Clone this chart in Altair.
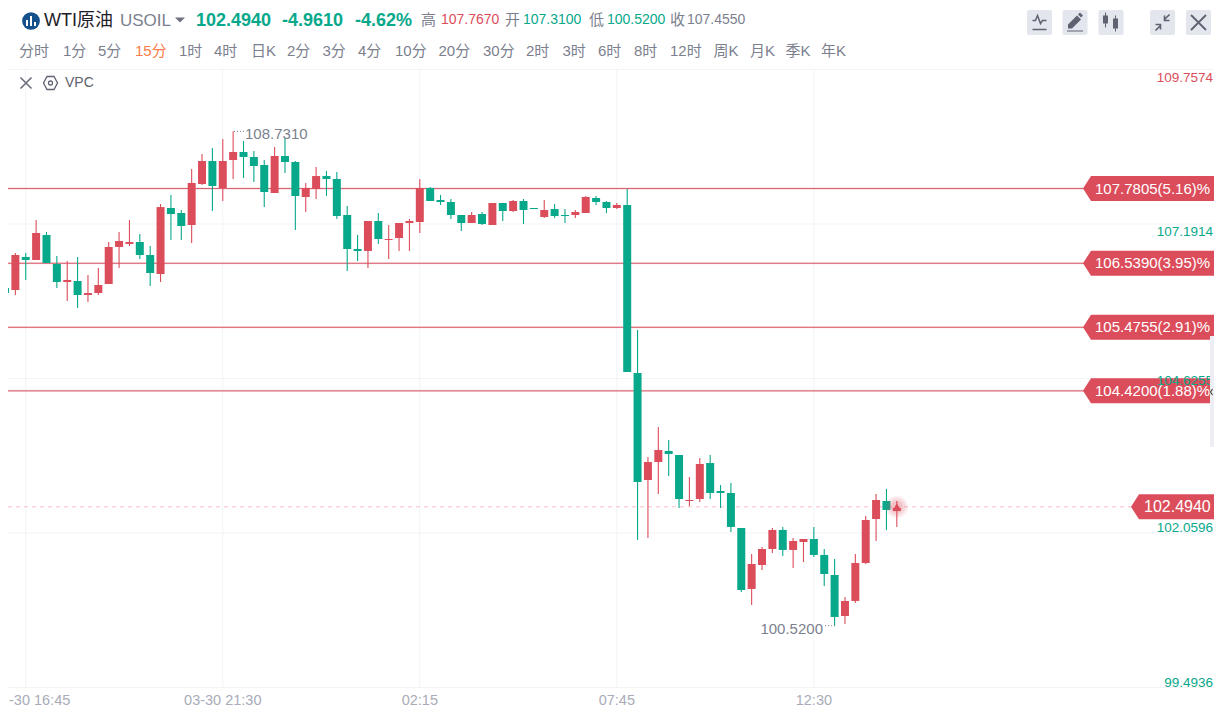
import altair as alt
import pandas as pd

OPEN = [106.128,106.095,106.644,106.594,107.009,106.527,106.228,106.245,106.012,106.045,
106.195,106.810,106.860,106.893,106.677,106.361,107.457,107.374,107.175,107.856,
108.238,107.789,108.254,108.387,108.304,108.171,107.706,108.321,108.221,107.640,
107.772,107.988,107.939,107.341,106.776,106.743,107.241,106.926,106.959,107.208,
107.225,107.789,107.590,107.557,107.341,107.208,107.357,107.175,107.540,107.407,
107.573,107.457,107.308,107.440,107.341,107.341,107.374,107.623,107.557,107.457,
107.507,104.717,102.940,103.239,103.422,103.355,102.591,102.624,103.222,102.757,
102.724,102.143,101.130,101.528,101.794,102.110,101.778,101.910,101.960,101.695,
101.362,100.681,100.931,101.562,102.292,102.591,102.425]
CLOSE = [106.046,106.677,106.594,107.042,106.544,106.228,106.262,106.012,106.045,106.178,
106.810,106.909,106.893,106.677,106.378,107.473,107.357,107.158,107.872,108.238,
107.823,108.238,108.387,108.304,108.155,107.723,108.321,108.221,107.656,107.789,
107.988,107.939,107.324,106.776,106.743,107.241,106.942,106.942,107.208,107.241,
107.789,107.573,107.557,107.341,107.208,107.341,107.191,107.540,107.407,107.573,
107.424,107.440,107.424,107.324,107.324,107.391,107.640,107.557,107.457,107.507,
104.733,102.907,103.239,103.438,103.372,102.624,102.608,103.206,102.724,102.724,
102.160,101.113,101.545,101.794,102.110,101.778,101.927,101.960,101.695,101.379,
100.665,100.931,101.562,102.276,102.608,102.442,102.475]
HIGH = [106.228,106.710,106.710,107.258,107.059,106.660,106.577,106.644,106.344,106.461,
106.893,107.059,107.258,107.025,106.826,107.523,107.673,107.424,108.105,108.354,
108.454,108.603,108.731,108.570,108.404,108.254,108.470,108.620,108.238,107.872,
108.138,108.071,108.055,107.490,107.009,107.241,107.374,107.175,107.208,107.274,
107.939,107.806,107.673,107.607,107.341,107.391,107.391,107.540,107.540,107.590,
107.607,107.457,107.590,107.523,107.440,107.424,107.656,107.656,107.573,107.540,
107.772,105.431,103.322,103.821,103.604,103.355,102.990,103.305,103.355,102.857,
102.890,102.143,101.711,101.827,102.143,102.160,101.977,101.960,102.160,101.794,
101.628,100.997,101.711,102.342,102.708,102.790,102.591]
LOW = [105.564,106.012,106.262,106.594,106.544,106.129,105.912,105.796,105.895,106.012,
106.195,106.461,106.826,106.611,106.162,106.228,106.926,106.926,106.876,107.839,
107.407,107.573,107.939,107.956,107.889,107.474,107.706,108.038,107.092,107.391,
107.607,107.656,107.274,106.411,106.577,106.461,106.860,106.611,106.743,106.743,
107.042,107.573,107.507,107.274,107.075,107.208,107.175,107.175,107.241,107.391,
107.191,107.440,107.291,107.291,107.208,107.291,107.374,107.507,107.374,107.440,
104.733,101.944,101.977,102.708,103.007,102.475,102.508,102.575,102.624,102.475,
102.077,101.080,100.864,101.445,101.728,101.678,101.479,101.578,101.662,101.180,
100.520,100.548,100.897,101.545,101.927,102.110,102.160]

GRID_PRICES = [109.7574, 107.1914, 104.6255, 102.0596, 99.4936]
GRID_LABELS = ["109.7574", "107.1914", "104.6255", "102.0596", "99.4936"]
TIME_TICKS = [21, 40, 59, 78]
TIME_LABELS = ["03-30 21:30", "02:15", "07:45", "12:30"]
FIRST_TICK = 2
FIRST_TICK_LABEL = "-30 16:45"
LEVELS = [107.7805, 106.5390, 105.4755, 104.4200]
LEVEL_LABELS = ["107.7805(5.16)%", "106.5390(3.95)%", "105.4755(2.91)%", "104.4200(1.88)%"]
LAST_PRICE = 102.4940
LAST_INDEX = 86
HIGH_MARK = 108.7310
LOW_MARK = 100.5200
HIGH_INDEX = 22
LOW_INDEX = 80

TIMEFRAMES = ["分时","1分","5分","15分","1时","4时","日K","2分","3分","4分","10分","20分","30分",
              "2时","3时","6时","8时","12时","周K","月K","季K","年K"]

RED = "#DC4D5B"
GREEN = "#08A88B"
GRID = "#F2F3F6"
GREY = "#7C7F8E"
FONT = "Liberation Sans, Noto Sans CJK SC"
OX = 8  # page margin
W = 1206  # widest the page shows without shrinking the drawing

X = alt.X("i:Q", axis=None, title=None,
          scale=alt.Scale(domain=[0, 100], range=[5 - OX, 5 - OX + 1037], nice=False, zero=False, padding=0))
Y_SCALE = alt.Scale(domain=[99.4936, 109.7574], range=[687.5 - OX, 69.5 - OX], nice=False, zero=False)


def Yq(field):
    return alt.Y(field + ":Q", axis=None, title=None, scale=Y_SCALE)


def txt(text, x, y, color=GREY, size=15, weight="normal", align="left", font=FONT):
    return alt.Chart(pd.DataFrame({"t": [text]})).mark_text(
        text=text, align=align, baseline="middle", color=color, fontSize=size,
        fontWeight=weight, font=font,
    ).encode(x=alt.value(x - OX), y=alt.value(y - OX))


def glyph(path, x, y, fill=None, stroke=None, sw=1.5, size=4, opacity=1):
    kw = dict(shape=path, size=size, opacity=opacity)
    if fill:
        kw.update(filled=True, fill=fill, strokeWidth=0)
    else:
        kw.update(filled=False, stroke=stroke, strokeWidth=sw)
    return alt.Chart(pd.DataFrame({"t": [0]})).mark_point(**kw).encode(
        x=alt.value(x - OX), y=alt.value(y - OX))


candles = pd.DataFrame({"i": range(len(OPEN)), "open": OPEN, "close": CLOSE, "high": HIGH, "low": LOW})
candles["top"] = candles[["open", "close"]].max(axis=1)
candles["bot"] = candles[["open", "close"]].min(axis=1)
candles["dir"] = ["up" if c >= o else "down" for o, c in zip(OPEN, CLOSE)]
COLOR = alt.Color("dir:N", legend=None, scale=alt.Scale(domain=["up", "down"], range=[RED, GREEN]))

layers = []

# grid
layers.append(alt.Chart(pd.DataFrame({"p": GRID_PRICES})).mark_rule(color=GRID, strokeWidth=1).encode(
    y=Yq("p"), x=alt.value(0), x2=alt.value(W)))
layers.append(alt.Chart(pd.DataFrame({"i": [FIRST_TICK] + TIME_TICKS, "a": [GRID_PRICES[0]] * 5, "b": [GRID_PRICES[-1]] * 5}))
              .mark_rule(color=GRID, strokeWidth=1).encode(x=X, y=Yq("a"), y2="b:Q"))

# last price dashed line
layers.append(alt.Chart(pd.DataFrame({"p": [LAST_PRICE]})).mark_rule(
    color="#F6BFC6", strokeWidth=1, strokeDash=[4, 4]).encode(
    y=Yq("p"), x=alt.value(0), x2=alt.value(1131 - OX)))

# level lines
lv = pd.DataFrame({"p": LEVELS, "t": LEVEL_LABELS})
layers.append(alt.Chart(lv).mark_rule(color="#F3B4BB", strokeWidth=2, opacity=0.5).encode(
    y=Yq("p"), x=alt.value(0), x2=alt.value(1084 - OX)))
layers.append(alt.Chart(lv).mark_rule(color="#D8616E", strokeWidth=1).encode(
    y=Yq("p"), x=alt.value(0), x2=alt.value(1084 - OX)))

# candles
layers.append(alt.Chart(candles).mark_rule(strokeWidth=1.1).encode(x=X, y=Yq("high"), y2="low:Q", color=COLOR))
layers.append(alt.Chart(candles).mark_bar(size=8, strokeWidth=0).encode(x=X, y=Yq("top"), y2="bot:Q", color=COLOR))

# pulse on the last candle
last = pd.DataFrame({"i": [LAST_INDEX], "p": [LAST_PRICE]})
for sz, op in [(480, 0.10), (300, 0.12), (150, 0.16)]:
    layers.append(alt.Chart(last).mark_point(shape="circle", filled=True, size=sz, color=RED, opacity=op, strokeWidth=0)
                  .encode(x=X, y=Yq("p")))
layers.append(alt.Chart(last).mark_point(shape="triangle-up", filled=True, size=70, color=RED, opacity=1, strokeWidth=0)
              .encode(x=X, y=Yq("p")))

# level tags
TAG = "M0,0 L8,-12.5 L140,-12.5 L140,12.5 L8,12.5 Z"
layers.append(alt.Chart(lv).mark_point(shape=TAG, size=4, filled=True, fill=RED, opacity=1, strokeWidth=0).encode(
    y=Yq("p"), x=alt.value(1083 - OX)))
layers.append(alt.Chart(lv).mark_text(align="left", baseline="middle", color="white", fontSize=15, font=FONT).encode(
    y=Yq("p"), x=alt.value(1095 - OX), text="t:N"))
# last price tag
lp = pd.DataFrame({"p": [LAST_PRICE], "t": ["%.4f" % LAST_PRICE]})
layers.append(alt.Chart(lp).mark_point(shape=TAG, size=4, filled=True, fill=RED, opacity=1, strokeWidth=0).encode(
    y=Yq("p"), x=alt.value(1131 - OX)))
layers.append(alt.Chart(lp).mark_text(align="left", baseline="middle", color="white", fontSize=16, font=FONT).encode(
    y=Yq("p"), x=alt.value(1144 - OX), text="t:N"))

# price scale labels
for p, t, dy in zip(GRID_PRICES, GRID_LABELS, [8.5, 8, 2.5, -5, -4.5]):
    c = RED if p == GRID_PRICES[0] else GREEN
    layers.append(alt.Chart(pd.DataFrame({"p": [p], "t": [t]})).mark_text(
        align="right", baseline="middle", color=c, fontSize=13.5, font=FONT, dy=dy).encode(
        y=Yq("p"), x=alt.value(W - 1), text="t:N"))

# time labels
layers.append(alt.Chart(pd.DataFrame({"i": TIME_TICKS, "t": TIME_LABELS})).mark_text(
    align="center", baseline="middle", color="#A9ABB8", fontSize=14.5, font=FONT).encode(
    x=X, y=alt.value(701 - OX), text="t:N"))
layers.append(txt(FIRST_TICK_LABEL, 9, 701, color="#A9ABB8", size=14.5))

# high / low markers
hm = pd.DataFrame({"p": [HIGH_MARK], "i": [HIGH_INDEX], "t": ["108.7310"]})
lm = pd.DataFrame({"p": [LOW_MARK], "i": [LOW_INDEX], "t": ["100.5200"]})
layers.append(alt.Chart(hm).mark_rule(color=GREY, strokeDash=[1, 2], strokeWidth=1).encode(
    y=Yq("p"), x=alt.value(234 - OX), x2=alt.value(244 - OX)))
layers.append(alt.Chart(hm).mark_text(align="left", baseline="middle", color=GREY, fontSize=15, font=FONT, dy=3).encode(
    y=Yq("p"), x=alt.value(245 - OX), text="t:N"))
layers.append(alt.Chart(lm).mark_rule(color=GREY, strokeDash=[1, 2], strokeWidth=1).encode(
    y=Yq("p"), x=alt.value(825 - OX), x2=alt.value(836 - OX)))
layers.append(alt.Chart(lm).mark_text(align="right", baseline="middle", color=GREY, fontSize=15, font=FONT, dy=3).encode(
    y=Yq("p"), x=alt.value(823 - OX), text="t:N"))

# side tab
layers.append(glyph("M0,0 L4,0 L4,111 L0,111 Z", 1210, 336, fill="#EDEEF4"))
layers.append(glyph("M2,-3 L0,0 L2,3", 1210.5, 392, stroke="#444", sw=1.2))

# header
layers.append(alt.Chart(pd.DataFrame({"t": [0]})).mark_point(shape="circle", filled=True, size=314, color="#14508A", opacity=1, strokeWidth=0)
              .encode(x=alt.value(31 - OX), y=alt.value(21 - OX)))
layers.append(glyph("M-5,-1 L-3,-1 L-3,5 L-5,5 Z M-1,-5 L1,-5 L1,5 L-1,5 Z M3,1 L5,1 L5,5 L3,5 Z", 31, 21, fill="white"))
layers.append(txt("WTI原油", 44, 21, color="#1E2028", size=18))
layers.append(txt("USOIL", 120, 21, color=GREY, size=17))
layers.append(glyph("M-5,-2.5 L5,-2.5 L0,2.5 Z", 180, 20, fill="#6F7280"))
layers.append(txt("102.4940", 196, 21, color=GREEN, size=18, weight="bold"))
layers.append(txt("-4.9610", 282, 21, color=GREEN, size=18, weight="bold"))
layers.append(txt("-4.62%", 355, 21, color=GREEN, size=18, weight="bold"))
for t, x, c in [("高", 421, GREY), ("107.7670", 441, RED), ("开", 505, GREY), ("107.3100", 523, GREEN),
                ("低", 589, GREY), ("100.5200", 607, GREEN), ("收", 670, GREY), ("107.4550", 687, GREY)]:
    layers.append(txt(t, x, 20, color=c, size=14 if t[0].isdigit() else 15))

for t, x in zip(TIMEFRAMES, [19, 63, 98, 135, 179, 214, 251, 287, 322.5, 358, 395, 438.5, 483, 526, 562.5,
                             598, 634, 670, 713.5, 750, 785.5, 821]):
    layers.append(txt(t, x, 51, color="#F97C4A" if t == "15分" else GREY, size=15))

# indicator row
layers.append(glyph("M-5.5,-5.5 L5.5,5.5 M5.5,-5.5 L-5.5,5.5", 26, 83, stroke="#6A6D7A", sw=1.6))
layers.append(glyph("M-3.5,-6.5 L3.5,-6.5 L7,0 L3.5,6.5 L-3.5,6.5 L-7,0 Z M-2,0 Q-2,-2 0,-2 Q2,-2 2,0 Q2,2 0,2 Q-2,2 -2,0 Z",
                    50.5, 83, stroke="#5F6270", sw=1.3))
layers.append(txt("VPC", 65, 83, color="#5F6270", size=14))

# toolbar buttons
BTN = "M-10.5,-12.5 L10.5,-12.5 Q12.5,-12.5 12.5,-10.5 L12.5,10.5 Q12.5,12.5 10.5,12.5 L-10.5,12.5 Q-12.5,12.5 -12.5,10.5 L-12.5,-10.5 Q-12.5,-12.5 -10.5,-12.5 Z"
for cx in [1039.5, 1075, 1111, 1162.5, 1198.5]:
    layers.append(glyph(BTN, cx, 22.5, fill="#E4E6EE"))
ICON = "#5F6270"
layers.append(glyph("M-7,-2 L-4,-2 L-2,-7 L1,1 L3,-2 L7,-2 M-7,7 L7,7", 1039.5, 22.5, stroke=ICON, sw=1.5))
layers.append(glyph("M-7,3 L2,-6 L6,-2 L-3,7 L-7,7 Z M3,-7 L5,-9 L8,-6 L6,-4 Z M-8,9 L8,9 L8,10 L-8,10 Z", 1075, 21.5, fill=ICON))
layers.append(glyph("M-6,-9 L-5,-9 L-5,-6 L-3,-6 L-3,2 L-5,2 L-5,6 L-6,6 L-6,2 L-8,2 L-8,-6 L-6,-6 Z M4,-6 L5,-6 L5,-3 L7,-3 L7,7 L5,7 L5,10 L4,10 L4,7 L2,7 L2,-3 L4,-3 Z", 1111, 21.5, fill=ICON))
layers.append(glyph("M7,-8 L2,-3 M2,-7 L2,-2 L7,-2 M-7,8 L-2,3 M-7,2 L-2,2 L-2,7", 1162.5, 22.5, stroke=ICON, sw=1.6))
layers.append(glyph("M-7.5,-7.5 L7.5,7.5 M7.5,-7.5 L-7.5,7.5", 1198.5, 22.5, stroke=ICON, sw=1.8))

chart = alt.layer(*layers).properties(
    width=W, height=700, padding=0,
    autosize=alt.AutoSizeParams(type="none"),
    background="white",
).configure_view(stroke=None)

chart.save("out.html", embed_options={"renderer": "svg", "actions": False})
